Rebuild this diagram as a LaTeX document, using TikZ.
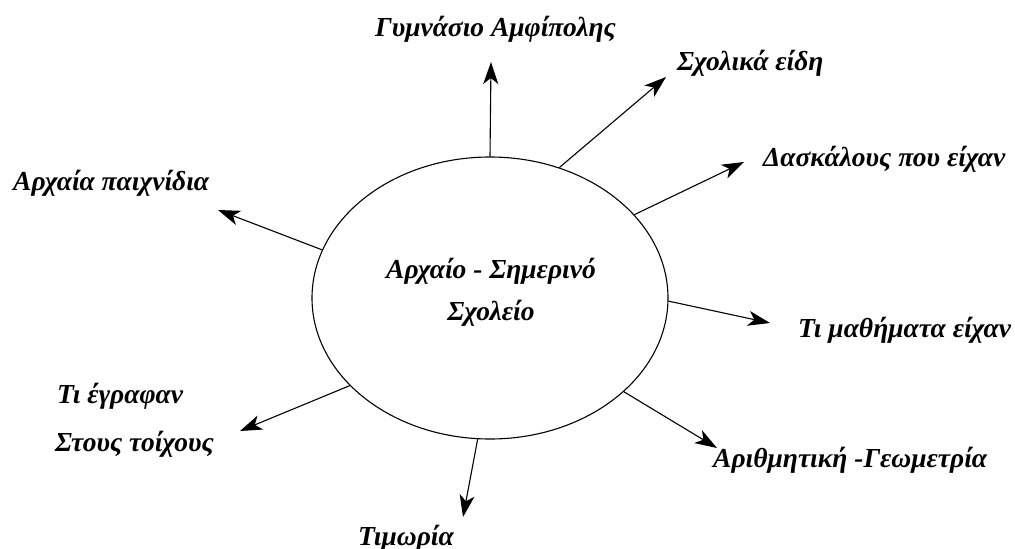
\documentclass[tikz,border=0pt]{standalone}
\usepackage{fontspec}
\setmainfont{Liberation Serif}
\usetikzlibrary{shapes.geometric,arrows.meta}

\begin{document}
\begin{tikzpicture}[x=1pt,y=-1pt,
        font=\fontsize{27.5}{32}\selectfont\bfseries\itshape,
        lbl/.style={inner sep=0pt,anchor=base west},
        arr/.style={-{Stealth[length=22pt,width=15pt,inset=6pt]},line width=1.1pt},
        every node/.style={inner sep=0pt}]

    \useasboundingbox (0,0) rectangle (1015,549);

    % the school in the middle
    \node[draw,ellipse,line width=1.1pt,minimum width=356pt,minimum height=282pt] (school) at (490,298) {};
    \node[anchor=base] (top) at (491,278) {Αρχαίο - Σημερινό};
    \node[anchor=base] (bottom) at (491,320) {Σχολείο};

    % labels
    \node[lbl] (gym)  at (375,36)  {Γυμνάσιο Αμφίπολης};
    \node[lbl] (eidh) at (677,70)  {Σχολικά είδη};
    \node[lbl] (dask) at (763,166) {Δασκάλους που είχαν};
    \node[lbl] (math) at (798,337) {Τι μαθήματα είχαν};
    \node[lbl] (geom) at (713,467) {Αριθμητική -Γεωμετρία};
    \node[lbl] (tim)  at (358,545) {Τιμωρία};
    \node[lbl] (egr)  at (57,403)  {Τι έγραφαν};
    \node[lbl] (toix) at (55,451)  {Στους τοίχους};
    \node[lbl] (paix) at (13,190)  {Αρχαία παιχνίδια};

    % arrow tips
    \coordinate (gym-t)  at (491,62);
    \coordinate (eidh-t) at (666,77);
    \coordinate (dask-t) at (744,162);
    \coordinate (math-t) at (770,323);
    \coordinate (geom-t) at (717,448);
    \coordinate (tim-t)  at (463,517);
    \coordinate (egr-t)  at (240,431);
    \coordinate (paix-t) at (218,210);

    \draw[arr] (school.90)    -- (gym-t);
    \draw[arr] (school.62)    -- (eidh-t);
    \draw[arr] (school.30)    -- (dask-t);
    \draw[arr] (school.-1)    -- (math-t);
    \draw[arr] (school.-35.5) -- (geom-t);
    \draw[arr] (school.-95.5) -- (tim-t);
    \draw[arr] (school.212.6) -- (egr-t);
    \draw[arr] (school.164)   -- (paix-t);
\end{tikzpicture}
\end{document}
